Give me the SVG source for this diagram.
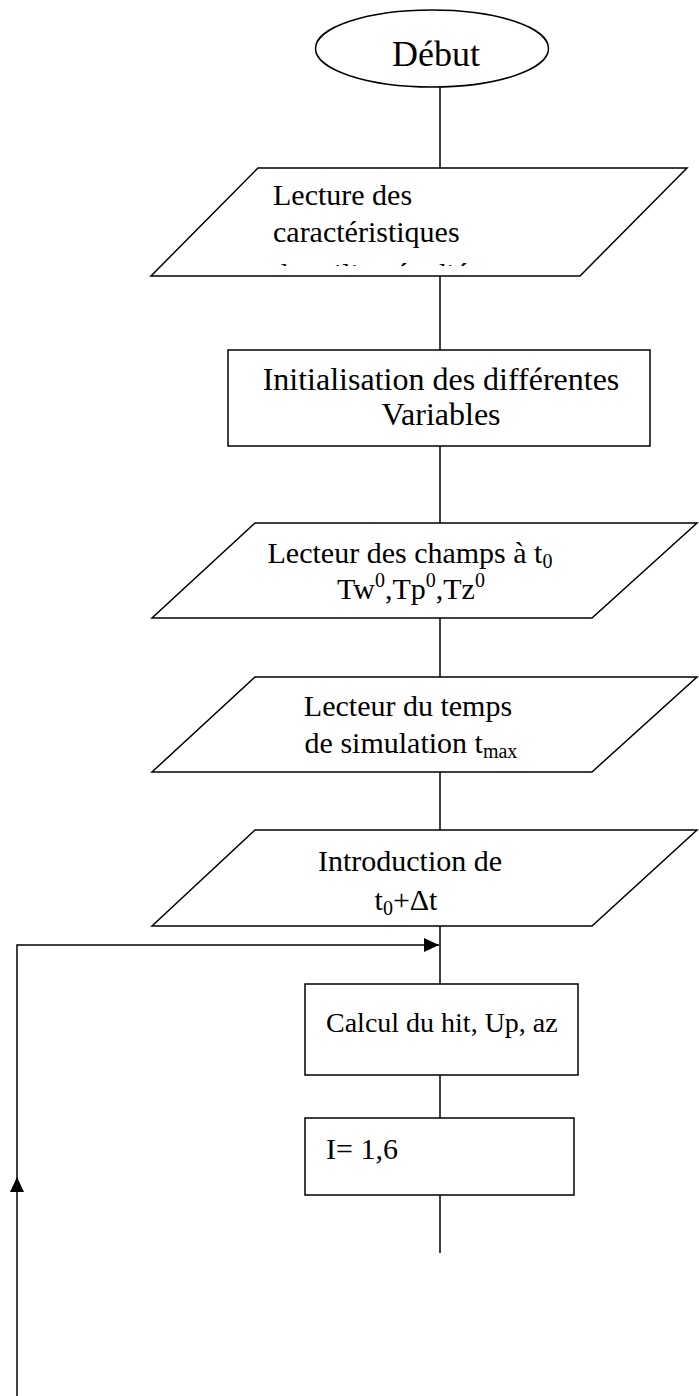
<svg xmlns="http://www.w3.org/2000/svg" width="699" height="1396" viewBox="0 0 699 1396">
  <style>
    .shape { fill: #ffffff; stroke: #000000; stroke-width: 1.5; }
    .wire { fill: none; stroke: #000000; stroke-width: 1.5; }
    .lbl { font-family: "Liberation Serif", "Times New Roman", serif; font-size: 30px; fill: #000000; }
    .mid { text-anchor: middle; }
    .small { font-size: 20px; }
  </style>
  <defs>
    <marker id="arrow" markerWidth="16" markerHeight="14" refX="15" refY="7" orient="auto" markerUnits="userSpaceOnUse">
      <path d="M0,0 L15,7 L0,14 Z" fill="#000000"/>
    </marker>
    <clipPath id="clip-read">
      <rect x="150" y="150" width="560" height="116"/>
    </clipPath>
  </defs>

  <rect width="699" height="1396" fill="#ffffff"/>

  <!-- connectors -->
  <g id="connectors">
    <line class="wire" x1="440" y1="87" x2="440" y2="168"/>
    <line class="wire" x1="440" y1="276" x2="440" y2="350"/>
    <line class="wire" x1="440" y1="446" x2="440" y2="523"/>
    <line class="wire" x1="440" y1="618" x2="440" y2="677"/>
    <line class="wire" x1="440" y1="772" x2="440" y2="830"/>
    <line class="wire" x1="440" y1="926" x2="440" y2="984"/>
    <line class="wire" x1="440" y1="1075" x2="440" y2="1118"/>
    <line class="wire" x1="440" y1="1195" x2="440" y2="1253"/>
    <!-- loop back -->
    <path class="wire" d="M17,1396 V1177" marker-end="url(#arrow)"/>
    <path class="wire" d="M17,1177 V945 H439" marker-end="url(#arrow)"/>
  </g>

  <g id="start">
    <ellipse class="shape" cx="432" cy="48.5" rx="116.5" ry="38.5"/>
    <text class="lbl mid" x="436" y="66" style="font-size:36px">Début</text>
  </g>

  <g id="read-specs">
    <polygon class="shape" points="258,168 687,168 580,276 151,276"/>
    <g clip-path="url(#clip-read)">
      <text class="lbl" x="273" y="205">Lecture des</text>
      <text class="lbl" x="273" y="242">caractéristiques</text>
      <text class="lbl" x="273" y="284">du milieu étudié</text>
    </g>
  </g>

  <g id="init">
    <rect class="shape" x="228" y="350" width="422" height="96"/>
    <text class="lbl mid" x="441" y="390" style="font-size:32px">Initialisation des différentes</text>
    <text class="lbl mid" x="441" y="425" style="font-size:32px">Variables</text>
  </g>

  <g id="read-fields">
    <polygon class="shape" points="255,523 697,523 592,618 152,618"/>
    <text class="lbl mid" x="410" y="563">Lecteur des champs à t<tspan class="small" dy="5">0</tspan></text>
    <text class="lbl mid" x="411" y="599">Tw<tspan class="small" dy="-12">0</tspan><tspan dy="12">,Tp</tspan><tspan class="small" dy="-12">0</tspan><tspan dy="12">,Tz</tspan><tspan class="small" dy="-12">0</tspan></text>
  </g>

  <g id="read-time">
    <polygon class="shape" points="255,677 697,677 592,772 152,772"/>
    <text class="lbl mid" x="408" y="716">Lecteur du temps</text>
    <text class="lbl mid" x="411" y="753">de simulation t<tspan class="small" dy="5">max</tspan></text>
  </g>

  <g id="time-step">
    <polygon class="shape" points="255,830 697,830 592,926 152,926"/>
    <text class="lbl mid" x="410" y="871">Introduction de</text>
    <text class="lbl mid" x="406" y="910">t<tspan class="small" dy="5">0</tspan><tspan dy="-5">+Δt</tspan></text>
  </g>

  <g id="compute">
    <rect class="shape" x="305" y="984" width="273" height="91"/>
    <text class="lbl" x="326" y="1032" style="font-size:28px">Calcul du hit, Up, az</text>
  </g>

  <g id="loop-index">
    <rect class="shape" x="305" y="1118" width="269" height="77"/>
    <text class="lbl" x="326" y="1159">I= 1,6</text>
  </g>
</svg>
